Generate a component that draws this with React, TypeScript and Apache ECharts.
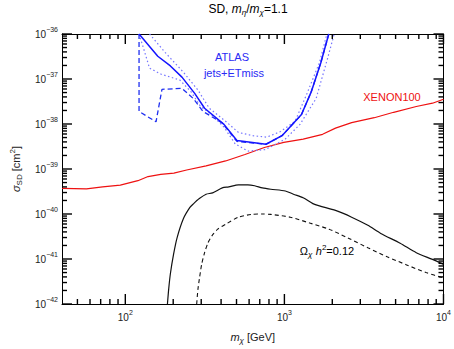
import React, { useEffect, useRef } from "react";
import * as echarts from "echarts";

// ---------- data (GeV, cm^2) ----------
const xenonMass = [40, 57, 72, 93, 120, 139, 167, 202, 243, 322, 427, 565, 748, 991, 1312, 1738, 2095, 2647, 3673, 4861, 6745, 8530, 10000];
const xenonSigma = [3.7e-40, 3.6e-40, 4.0e-40, 4.4e-40, 5.5e-40, 6.8e-40, 7.6e-40, 8.1e-40, 9.5e-40, 1.17e-39, 1.51e-39, 2.1e-39, 3.0e-39, 3.9e-39, 4.6e-39, 5.9e-39, 8.1e-39, 1.07e-38, 1.38e-38, 1.82e-38, 2.45e-38, 2.9e-38, 3.55e-38];

const atlasObsMass = [122, 160, 192, 227, 273, 315, 417, 503, 766, 966, 1280, 1472, 1694, 1901];
const atlasObsSigma = [1e-36, 3.2e-37, 1.95e-37, 1.1e-37, 4.8e-38, 2.24e-38, 9.8e-39, 4.3e-39, 3.55e-39, 5.5e-39, 1.62e-38, 5.1e-38, 2.3e-37, 1e-36];

const atlasExpMass = [122, 122, 156, 170, 227, 267, 308, 407, 503, 766, 966, 1280, 1472, 1694, 1901];
const atlasExpSigma = [1e-36, 1.9e-38, 1.12e-38, 5.9e-38, 6.2e-38, 3.7e-38, 1.9e-38, 1.05e-38, 4.1e-39, 3.55e-39, 5.5e-39, 1.62e-38, 5.1e-38, 2.3e-37, 1e-36];

const atlasUpMass = [142, 179, 232, 287, 337, 427, 514, 635, 774, 946, 1167, 1374, 1660, 1851];
const atlasUpSigma = [1e-36, 3.8e-37, 1.41e-37, 5.6e-38, 2.24e-38, 1.15e-38, 6.5e-39, 5.5e-39, 5.1e-39, 6.8e-39, 1.15e-38, 4.4e-38, 2.3e-37, 1e-36];

const atlasDownMass = [122, 132, 142, 167, 220, 259, 296, 351, 415, 491, 592, 759, 1011, 1253, 1583, 1862, 2056];
const atlasDownSigma = [1e-36, 4.1e-37, 1.74e-37, 1.29e-37, 9.5e-38, 5.2e-38, 2.5e-38, 1.58e-38, 8.7e-39, 3.6e-39, 2.5e-39, 2.7e-39, 4.6e-39, 9.8e-39, 3.7e-38, 2.75e-37, 1e-36];

const relicMass = [184, 187.5, 192, 201, 211.5, 232, 254, 267, 292, 322, 354, 407, 447, 514, 589, 650, 727, 822, 1014, 1140, 1312, 1510, 1660, 2095, 2647, 3346, 4033, 5342, 6745, 8530, 10000];
const relicSigma = [1e-42, 2.2e-42, 4.7e-42, 1.26e-41, 2.95e-41, 7.9e-41, 1.38e-40, 1.66e-40, 2.2e-40, 2.75e-40, 2.95e-40, 3.8e-40, 4.0e-40, 4.45e-40, 4.45e-40, 4.25e-40, 3.8e-40, 3.55e-40, 3.25e-40, 2.75e-40, 2.3e-40, 1.7e-40, 1.51e-40, 1.2e-40, 8.5e-41, 5.6e-41, 3.7e-41, 2.24e-41, 1.38e-41, 9.8e-42, 7.6e-42];

const relicDashMass = [281, 286, 293, 302, 315, 331, 351, 381, 427, 514, 621, 727, 822, 1089, 1442, 1907, 2525, 3346, 4429, 5866, 7762, 10000];
const relicDashSigma = [1e-42, 2.1e-42, 3.9e-42, 7.6e-42, 1.38e-41, 2.3e-41, 3.3e-41, 4.6e-41, 5.9e-41, 8.5e-41, 9.8e-41, 1.0e-40, 9.8e-41, 8.5e-41, 6.3e-41, 4.6e-41, 2.9e-41, 1.78e-41, 1.12e-41, 7.4e-42, 5.0e-42, 3.8e-42];

// axis ranges and ticks (decade exponents)
const massMin = 40;
const massMax = 1e4;
const sigmaMinExp = -42;
const sigmaMaxExp = -36;
const xMajorExp = [2, 3, 4];
const xMinorDecades = [1, 2, 3];
const yMajorExp = [-42, -41, -40, -39, -38, -37, -36];
const minorMultipliers = [2, 3, 4, 5, 6, 7, 8, 9];

const FONT = "Liberation Sans";
const MAJOR_LEN = 10;
const MINOR_LEN = 5;

const toPts = (xs: number[], ys: number[]) => xs.map((x, i) => [Math.log10(x), Math.log10(ys[i])]);

export default function App() {
  const ref = useRef<HTMLDivElement>(null);
  useEffect(() => {
    document.body.style.margin = "0";
    const chart = echarts.init(ref.current!, undefined, { renderer: "svg" });
    const xMin = Math.log10(massMin);
    const xMax = Math.log10(massMax);

    const labelRich = {
      b: { fontSize: 10, fontFamily: FONT, color: "#222" },
      s: { fontSize: 7, fontFamily: FONT, color: "#222", padding: [0, 0, 9, 0] },
    };

    const axisLine = { show: true, onZero: false, lineStyle: { color: "#000", width: 1 } };

    const line = (name: string, data: number[][], color: string, width: number, type: any, smooth: number | boolean = false, z = 2): any => ({
      name,
      type: "line",
      data,
      xAxisIndex: 0,
      yAxisIndex: 0,
      showSymbol: false,
      symbol: "none",
      smooth,
      clip: true,
      z,
      lineStyle: { color, width, type },
    });

    const texts: any[] = [
      {
        type: "text",
        x: 248,
        y: 9,
        style: {
          text: "{n|SD, }{i|m}{sub|η}{n|/}{i|m}{sub|χ}{n|=1.1}",
          align: "center",
          verticalAlign: "middle",
          rich: {
            n: { fontSize: 12, fontFamily: FONT, color: "#222" },
            i: { fontSize: 12, fontStyle: "italic", fontFamily: FONT, color: "#222" },
            sub: { fontSize: 8, fontStyle: "italic", fontFamily: FONT, color: "#222", padding: [7, 0, 0, 0] },
          },
        },
      },
      {
        type: "text",
        x: 232,
        y: 57,
        style: { text: "ATLAS", align: "center", verticalAlign: "middle", fontSize: 11, fontFamily: FONT, fill: "#2a2af5" },
      },
      {
        type: "text",
        x: 234,
        y: 73,
        style: { text: "jets+ETmiss", align: "center", verticalAlign: "middle", fontSize: 11, fontFamily: FONT, fill: "#2a2af5" },
      },
      {
        type: "text",
        x: 392,
        y: 97,
        style: { text: "XENON100", align: "center", verticalAlign: "middle", fontSize: 11, fontFamily: FONT, fill: "#ee1111" },
      },
      {
        type: "text",
        x: 327,
        y: 251,
        style: {
          text: "{n|Ω}{sub|χ} {i|h}{sup|2}{n|=0.12}",
          align: "center",
          verticalAlign: "middle",
          rich: {
            i: { fontSize: 11, fontStyle: "italic", fontFamily: FONT, color: "#222" },
            n: { fontSize: 11, fontFamily: FONT, color: "#222" },
            sub: { fontSize: 8, fontStyle: "italic", fontFamily: FONT, color: "#222", padding: [6, 0, 0, 0] },
            sup: { fontSize: 8, fontFamily: FONT, color: "#222", padding: [0, 0, 8, 0] },
          },
        },
      },
    ];

    chart.setOption({
      animation: false,
      grid: { left: 51, right: 9, top: 34, bottom: 38, containLabel: false },
      xAxis: [
        {
          type: "value",
          position: "bottom",
          min: xMin,
          max: xMax,
          splitLine: { show: false },
          axisTick: { show: false },
          axisLine,
          axisLabel: {
            show: true,
            customValues: xMajorExp,
            margin: 5,
            formatter: (v: number) => `{b|10}{s|${Math.round(v)}}`,
            rich: labelRich,
          },
          name: "{i|m}{sub|χ} [GeV]",
          nameLocation: "middle",
          nameGap: 26,
          nameTextStyle: {
            fontSize: 11,
            fontFamily: FONT,
            color: "#222",
            rich: {
              i: { fontSize: 11, fontStyle: "italic", fontFamily: FONT, color: "#222" },
              sub: { fontSize: 8, fontStyle: "italic", fontFamily: FONT, color: "#222", padding: [6, 0, 0, 0] },
            },
          },
        },
        { type: "value", position: "top", min: xMin, max: xMax, splitLine: { show: false }, axisTick: { show: false }, axisLine, axisLabel: { show: false } },
      ],
      yAxis: [
        {
          type: "value",
          position: "left",
          min: sigmaMinExp,
          max: sigmaMaxExp,
          splitLine: { show: false },
          axisTick: { show: false },
          axisLine,
          axisLabel: {
            show: true,
            customValues: yMajorExp,
            margin: 4,
            formatter: (v: number) => `{b|10}{s|−${Math.abs(Math.round(v))}}`,
            rich: labelRich,
          },
          name: "{i|σ}{sub|SD} [cm{sup|2}]",
          nameLocation: "middle",
          nameGap: 38,
          nameTextStyle: {
            fontSize: 11,
            fontFamily: FONT,
            color: "#222",
            rich: {
              i: { fontSize: 11, fontStyle: "italic", fontFamily: FONT, color: "#222" },
              sub: { fontSize: 8, fontFamily: FONT, color: "#222", padding: [6, 0, 0, 0] },
              sup: { fontSize: 8, fontFamily: FONT, color: "#222", padding: [0, 0, 8, 0] },
            },
          },
        },
        { type: "value", position: "right", min: sigmaMinExp, max: sigmaMaxExp, splitLine: { show: false }, axisTick: { show: false }, axisLine, axisLabel: { show: false } },
      ],
      series: [
        line("XENON100", toPts(xenonMass, xenonSigma), "#ee1111", 1.2, "solid"),
        line("ATLAS +1σ", toPts(atlasUpMass, atlasUpSigma), "#7474ff", 1.2, [1.5, 2.5]),
        line("ATLAS −1σ", toPts(atlasDownMass, atlasDownSigma), "#7474ff", 1.2, [1.5, 2.5]),
        line("ATLAS expected", toPts(atlasExpMass, atlasExpSigma), "#1f2ff0", 1.3, [5, 3]),
        line("ATLAS observed", toPts(atlasObsMass, atlasObsSigma), "#1414ff", 1.5, "solid", false, 3),
        line("Relic", toPts(relicMass, relicSigma), "#111", 1.2, "solid", 0.25),
        line("Relic dashed", toPts(relicDashMass, relicDashSigma), "#111", 1.1, [4, 3], 0.25),
      ],
      graphic: texts,
    });

    // tick marks placed through the axes' own scales
    const ticks: any[] = [];
    const px = (x: number, y: number) => chart.convertToPixel({ gridIndex: 0 }, [x, y]) as number[];
    const seg = (x1: number, y1: number, x2: number, y2: number) =>
      ticks.push({ type: "line", z: 100, silent: true, shape: { x1, y1, x2, y2 }, style: { stroke: "#000", lineWidth: 1.4 } });
    const xTick = (v: number, len: number) => {
      const b = px(v, sigmaMinExp);
      const t = px(v, sigmaMaxExp);
      seg(b[0], b[1], b[0], b[1] - len);
      seg(t[0], t[1], t[0], t[1] + len);
    };
    const yTick = (v: number, len: number) => {
      const l = px(xMin, v);
      const r = px(xMax, v);
      seg(l[0], l[1], l[0] + len, l[1]);
      seg(r[0], r[1], r[0] - len, r[1]);
    };
    try {
      xMajorExp.forEach((d) => xTick(d, MAJOR_LEN));
      xMinorDecades.forEach((d) =>
        minorMultipliers.forEach((k) => {
          const v = d + Math.log10(k);
          if (v > xMin + 1e-6 && v < xMax - 1e-6) xTick(v, MINOR_LEN);
        })
      );
      yMajorExp.forEach((d) => yTick(d, MAJOR_LEN));
      yMajorExp.slice(0, -1).forEach((d) => minorMultipliers.forEach((k) => yTick(d + Math.log10(k), MINOR_LEN)));
    } catch (e) {
      // keep whatever ticks were computed
    }
    chart.setOption({ graphic: [...texts, ...ticks] });
    return () => chart.dispose();
  }, []);
  return <div ref={ref} style={{ position: "fixed", left: 0, top: 0, width: 454, height: 349, background: "#fff" }} />;
}
